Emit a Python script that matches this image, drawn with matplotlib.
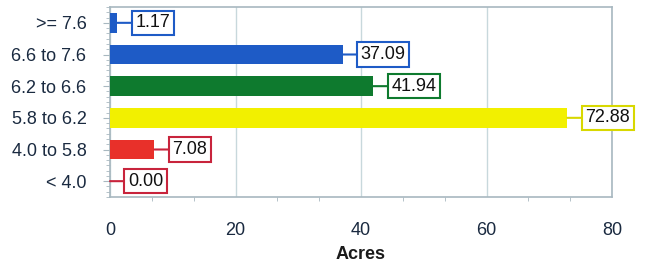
import matplotlib.pyplot as plt
from matplotlib.ticker import MultipleLocator

categories = ["< 4.0", "4.0 to 5.8", "5.8 to 6.2", "6.2 to 6.6", "6.6 to 7.6", ">= 7.6"]
acres = [0.00, 7.08, 72.88, 41.94, 37.09, 1.17]
bar_colors = ["#e8302a", "#e8302a", "#f2f000", "#0e7a2e", "#1e5bc6", "#1e5bc6"]
box_colors = ["#c8243c", "#c8243c", "#d8d800", "#0e7a2e", "#1e5bc6", "#1e5bc6"]
x_ticks = [0, 20, 40, 60, 80]

plt.rcParams['font.family'] = ['Liberation Sans', 'DejaVu Sans']

fig = plt.figure(figsize=(6.5, 2.65), dpi=100)
ax = fig.add_axes([110 / 650, 1 - 197 / 265, 502 / 650, 190 / 265])

y = list(range(len(categories)))
ax.barh(y, acres, height=0.63, color=bar_colors, zorder=3)

for yi, v, c in zip(y, acres, box_colors):
    ax.annotate(f"{v:.2f}", xy=(v, yi), xytext=(13, 0), textcoords="offset points",
                ha="left", va="center", fontsize=13, color="#111111",
                bbox=dict(boxstyle="square,pad=0.2", fc="white", ec=c, lw=1.5),
                arrowprops=dict(arrowstyle="-", color=c, lw=1.5, shrinkA=0, shrinkB=0),
                annotation_clip=False, zorder=5)

ax.set_xlim(0, 80)
ax.set_ylim(-0.5, 5.5)
ax.set_xticks(x_ticks)
ax.xaxis.set_minor_locator(MultipleLocator(20 / 3))
ax.set_yticks(y)
ax.set_yticklabels(categories)
ax.yaxis.set_minor_locator(MultipleLocator(1 / 6))

ax.grid(axis="x", color="#c8d8dc", lw=1, zorder=0)
for s in ax.spines.values():
    s.set_color("#a8b8c0")
    s.set_linewidth(1.2)

ax.tick_params(axis="x", which="major", length=0, pad=18, labelsize=13, labelcolor="#1a2a40")
ax.tick_params(axis="x", which="minor", length=3, color="#a8b8c0")
ax.tick_params(axis="y", which="major", length=5, color="#a8b8c0", pad=12,
               labelsize=13, labelcolor="#1a2a40")
ax.tick_params(axis="y", which="minor", length=3, color="#a8b8c0")

ax.set_xlabel("Acres", fontsize=13, fontweight="bold", color="#1a1a1a", labelpad=5)

fig.savefig("out.png", dpi=100)
